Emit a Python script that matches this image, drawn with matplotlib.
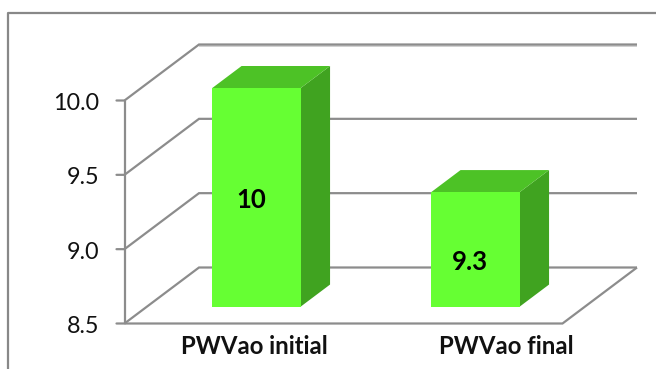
import matplotlib
matplotlib.use("Agg")
import matplotlib.pyplot as plt
from matplotlib.lines import Line2D
from matplotlib.patches import Polygon

categories = ["PWVao initial", "PWVao final"]
values = [10, 9.3]
value_labels = ["10", "9.3"]
y_ticks = [8.5, 9.0, 9.5, 10.0]
y_tick_labels = ["8.5", "9.0", "9.5", "10.0"]

GRID = "#8c8c8c"
SHADOW = "#c8c8c8"
FRONT = "#66ff33"
TOP = "#4dc226"
SIDE = "#40a320"

W, H = 656, 369
dpi = 100
plt.rcParams["font.family"] = ["Lato", "DejaVu Sans"]

fig = plt.figure(figsize=(W / dpi, H / dpi), dpi=dpi, facecolor="white")
ax = fig.add_axes([124.5 / W, (H - 323.5) / H, 438 / W, 223 / H])
ax.set_xlim(-0.5, 1.5)
ax.set_ylim(8.5, 10.0)
ax.axis("off")

# depth of the 3d box, in data units
depth_x = 74.5 / 219
depth_y = 56 / 223 * 1.5


def project(x, v, d):
    return x + d * depth_x, v + d * depth_y


def line(points, color=GRID, lw=1.6, z=2):
    xs = [p[0] for p in points]
    ys = [p[1] for p in points]
    ax.add_line(Line2D(xs, ys, color=color, lw=lw, clip_on=False, zorder=z,
                       solid_capstyle="butt", solid_joinstyle="miter"))


# outer frame, only top and left show
fig.add_artist(Line2D([7.5 / W, 7.5 / W, 1], [0, 1 - 12.5 / H, 1 - 12.5 / H],
                      color="#888888", lw=1.6))

# walls and floor
for t in y_ticks:
    back_l = project(-0.5, t, 1)
    back_r = project(1.5, t, 1)
    if t > 9.6:
        # soft edge under the top line
        sh = 1.6 / 223 * 1.5
        line([(back_l[0], back_l[1] - sh), (back_r[0], back_r[1] - sh)], color=SHADOW, lw=1.2, z=1)
    line([(-0.5, t), back_l, back_r])

line([(-0.5, 8.5), (1.5, 8.5), project(1.5, 8.5, 1)])
line([(-0.5, 8.5), (-0.5, 10.0)])
for t, lab in zip(y_ticks, y_tick_labels):
    ax.annotate("", xy=(-0.5, t), xytext=(-8, 0), textcoords="offset pixels",
                arrowprops=dict(arrowstyle="-", color=GRID, lw=1.6, shrinkA=0, shrinkB=0))
    ax.annotate(lab, xy=(-0.5, t), xytext=(-25, -3), textcoords="offset pixels",
                ha="right", va="center", fontsize=16.8, color="#111111")

# 3d bars
bar_w = 88.5 / 219
d0, d1 = 0.22, 0.616
base = 8.53
label_shift = [(-5, -3), (-5, -13)]
for i, v in enumerate(values):
    x0 = i + 0.027 - bar_w / 2
    x1 = x0 + bar_w
    ax.add_patch(Polygon([project(x1, base, d0), project(x1, v, d0), project(x1, v, d1), project(x1, base, d1)],
                         closed=True, fc=SIDE, ec="none", clip_on=False, zorder=4))
    ax.add_patch(Polygon([project(x0, v, d0), project(x1, v, d0), project(x1, v, d1), project(x0, v, d1)],
                         closed=True, fc=TOP, ec="none", clip_on=False, zorder=4))
    ax.add_patch(Polygon([project(x0, base, d0), project(x1, base, d0), project(x1, v, d0), project(x0, v, d0)],
                         closed=True, fc=FRONT, ec="none", clip_on=False, zorder=5))
    cx, cy = project((x0 + x1) / 2, (base + v) / 2, d0)
    ax.annotate(value_labels[i], xy=(cx, cy), xytext=label_shift[i], textcoords="offset pixels",
                ha="center", va="center", fontsize=18.5, fontweight="bold", color="black", zorder=6)

# category labels under the floor
label_x = [254.5, 506.5]
for name, px in zip(categories, label_x):
    fig.text(px / W, 1 - 346 / H, name, ha="center", va="center",
             fontsize=17.2, fontweight="bold", color="#111111")

fig.savefig("out.png", dpi=dpi)
